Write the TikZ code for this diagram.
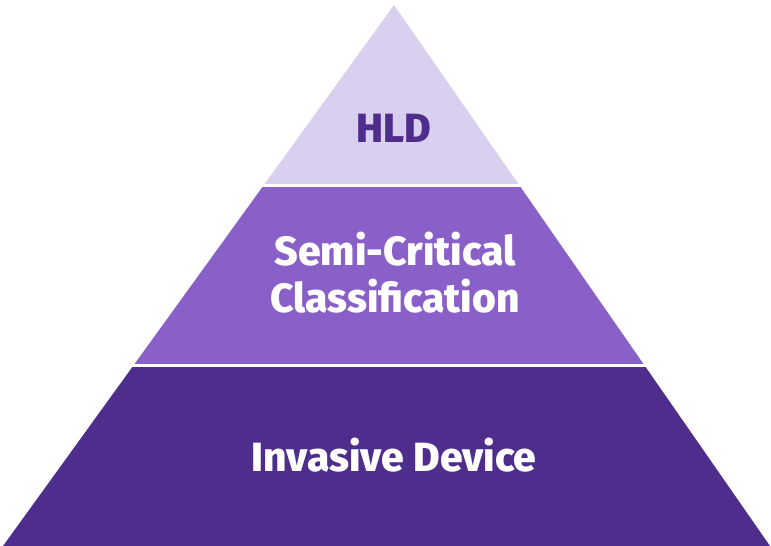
\documentclass[tikz,border=0pt]{standalone}
\usepackage{fontspec}
\setmainfont{Fira Sans}[UprightFont=* ExtraBold]
\definecolor{topc}{HTML}{D9D0F0}
\definecolor{midc}{HTML}{8860C8}
\definecolor{botc}{HTML}{4F2D8C}
\begin{document}
\begin{tikzpicture}[x=1pt,y=1pt,
  lbl/.style={font=\fontsize{40.8}{47}\selectfont, align=center, inner sep=0pt}]
\useasboundingbox (0,0) rectangle (771,546);
\coordinate (A) at (394,541);
\coordinate (L) at (3,0);
\coordinate (R) at (770,0);
\path (L) -- (A) coordinate[pos=0.3341] (L1) coordinate[pos=0.6664] (L2);
\path (R) -- (A) coordinate[pos=0.3341] (R1) coordinate[pos=0.6664] (R2);
\fill[botc] (L) -- (R) -- (R1) -- (L1) -- cycle;
\fill[midc] (L1) -- (R1) -- (R2) -- (L2) -- cycle;
\fill[topc] (L2) -- (R2) -- (A) -- cycle;
\draw[white, line width=3pt] ([xshift=-5]L1) -- ([xshift=5]R1);
\draw[white, line width=3pt] ([xshift=-5]L2) -- ([xshift=5]R2);
\node[lbl, text=botc] (hld) at (394,418) {HLD};
\node[lbl, text=white] (semi) at (395,273) {Semi-Critical\\Classification};
\node[lbl, text=white] (inv) at (394,91) {Invasive Device};
\end{tikzpicture}
\end{document}
